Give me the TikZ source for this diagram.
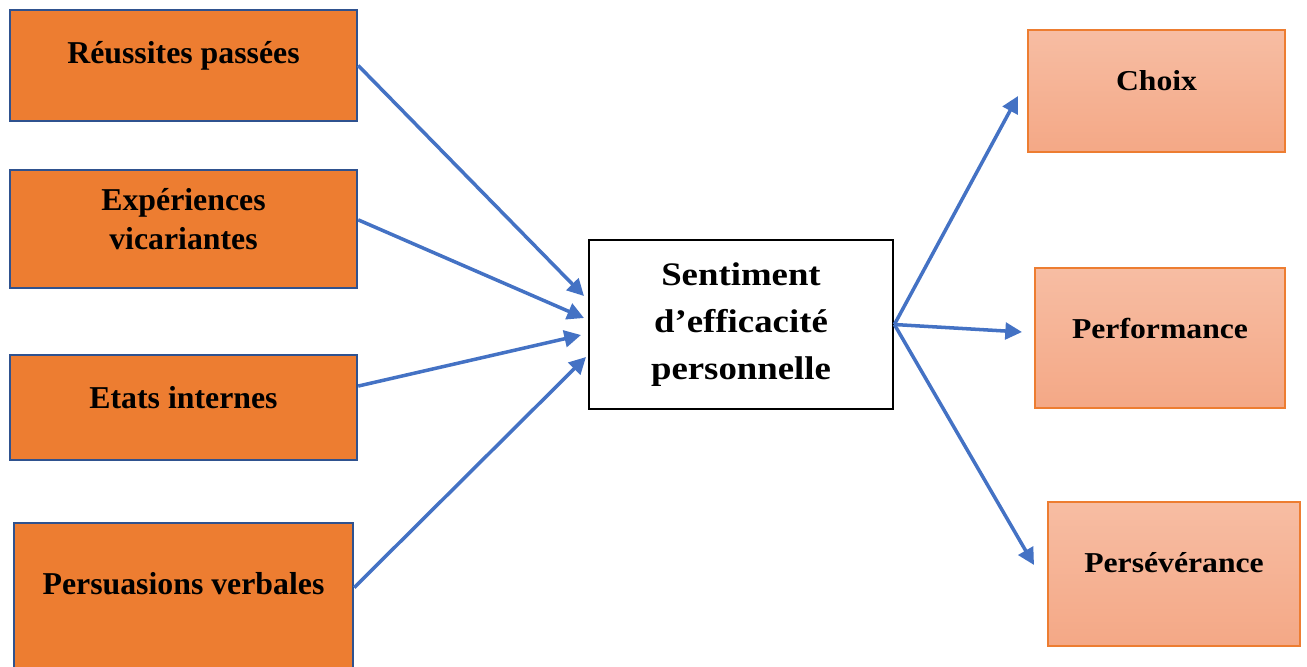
\documentclass[tikz,border=0pt]{standalone}
\usepackage{fontspec}
\setmainfont{Liberation Serif}
\newfontfamily\wideserif[FakeStretch=1.1]{Liberation Serif}
\newfontfamily\midserif[FakeStretch=1.12]{Liberation Serif}
\usepackage{tikz}
\usetikzlibrary{arrows.meta}
\usetikzlibrary{calc}
\usetikzlibrary{positioning}

\definecolor{causefill}{HTML}{ED7D31}
\definecolor{causedraw}{HTML}{2F528F}
\definecolor{effettop}{HTML}{F7BDA3}
\definecolor{effetbot}{HTML}{F4A886}
\definecolor{effetdraw}{HTML}{ED7D31}
\definecolor{flechebleu}{HTML}{4472C4}

\begin{document}
\begin{tikzpicture}
	[
	x=0.02cm, y=-0.02cm,
  > = {Triangle[length=9.5pt,width=9.5pt]},
  cause/.style = {draw=causedraw, line width=1.4pt, fill=causefill, minimum width=6.94cm},
  effet/.style = {draw=effetdraw, line width=0.9pt, top color=effettop, bottom color=effetbot},
  titre/.style = {font=\bfseries\fontsize{18.1}{22}\selectfont, align=center, yshift=0.2cm},
  titreeffet/.style = {font=\wideserif\bfseries\fontsize{16.4}{20}\selectfont, yshift=0.2cm},
  fleche/.style = {->, draw=flechebleu, line width=2pt}
  ]
	\useasboundingbox (0,0) rectangle (1307,666);

	% sources
	\node[cause, minimum height=2.22cm, label={[titre]center:Réussites passées}] (rp) at (183.5,65.5) {};
	\node[cause, minimum height=2.36cm, label={[titre]center:{Expériences\\vicariantes}}] (ev) at (183.5,229) {};
	\node[cause, minimum height=2.10cm, label={[titre]center:Etats internes}] (ei) at (183.5,407.5) {};
	\node[cause, minimum width=6.78cm, minimum height=2.94cm, label={[titre,yshift=0.05cm]center:Persuasions verbales}] (pv) at (183.5,596.5) {};

	\node[draw, line width=1.6pt, minimum width=6.08cm, minimum height=3.38cm, align=center,
		font=\midserif\bfseries\fontsize{18.7}{26.6}\selectfont] (sef) at (741,324.5) {Sentiment\\d’efficacité\\personnelle};

	% effets
	\node[effet, minimum width=5.14cm, minimum height=2.44cm, label={[titreeffet]center:Choix}] (choix) at (1156.5,91) {};
	\node[effet, minimum width=5.0cm, minimum height=2.8cm, label={[titreeffet]center:Performance}] (perf) at (1160,338) {};
	\node[effet, minimum width=5.04cm, minimum height=2.88cm, label={[titreeffet,yshift=0.02cm]center:Persévérance}] (pers) at (1174,574) {};

	\coordinate (@1) at (584,296);
	\coordinate (@2) at (584,318);
	\coordinate (@3) at (581,335);
	\coordinate (@4) at (586,357);
	\coordinate (@5) at (1018,96);
	\coordinate (@6) at (1022,332);
	\coordinate (@7) at (1034,565);

	\draw[fleche] (rp.east) -- (@1);
	\draw[fleche] (ev.3) -- (@2);
	\draw[fleche] (ei.7) -- (@3);
	\draw[fleche] (pv.3) -- (@4);
	\draw[fleche] (sef.east) -- (@5);
	\draw[fleche] (sef.east) -- (@6);
	\draw[fleche] (sef.east) -- (@7);

\end{tikzpicture}
\end{document}
